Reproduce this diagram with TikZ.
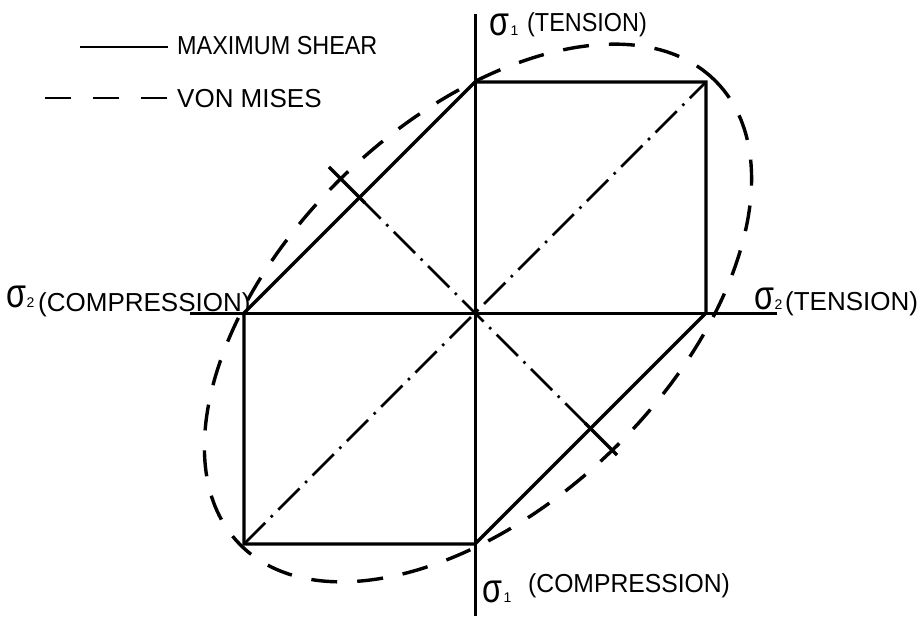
\documentclass[tikz,border=0pt]{standalone}
\usepackage{fontspec}
\setmainfont{Liberation Sans}
\begin{document}
\begin{tikzpicture}[x=1pt,y=1pt,
  solidline/.style={line width=3.2pt},
  axisline/.style={line width=3pt},
  vmline/.style={line width=3.4pt, dash pattern=on 26pt off 20pt},
  dashdotline/.style={line width=2.8pt, dash pattern=on 30pt off 8pt on 2.5pt off 8pt},
  lbl/.style={anchor=base west, inner sep=0pt, font=\fontsize{26}{30}\selectfont},
  sig/.style={anchor=base west, inner sep=0pt, font=\fontsize{34}{40}\selectfont},
  sub/.style={anchor=base west, inner sep=0pt, font=\fontsize{14}{16}\selectfont}]
\useasboundingbox (-475,-303) rectangle (448,313);
% key points
\coordinate (O) at (0,0);
\coordinate (Oe) at (3,0);
\coordinate (A) at (0,231);
\coordinate (B) at (231,231);
\coordinate (C) at (231,0);
\coordinate (D) at (0,-231);
\coordinate (E) at (-231,-231);
\coordinate (F) at (-231,0);
\coordinate (M1) at (-115.5,115.5);
\coordinate (M2) at (115.5,-115.5);
\coordinate (T1a) at (-146,146);
\coordinate (T1b) at (-110,110);
\coordinate (T2a) at (110,-110);
\coordinate (T2b) at (142,-142);
\coordinate (Xl) at (-285,0);
\coordinate (Xr) at (302,0);
\coordinate (Yt) at (0,299);
\coordinate (Yb) at (0,-303);
% axes
\draw[axisline] (Xl) -- (Xr);
\draw[axisline] (Yt) -- (Yb);
% maximum shear hexagon
\draw[solidline] (A) -- (B) -- (C) -- (D) -- (E) -- (F) -- cycle;
% von Mises ellipse
\draw[vmline, rotate around={44:(Oe)}] (Oe) ellipse [x radius=332, y radius=192];
% dash-dot diagonals
\draw[dashdotline] (E) -- (B);
\draw[dashdotline] (M1) -- (M2);
% ticks
\draw[solidline] (T1a) -- (T1b);
\draw[solidline] (T2a) -- (T2b);
% legend
\coordinate (L1a) at (-395,266);
\coordinate (L1b) at (-307,266);
\coordinate (L2a) at (-430,215);
\coordinate (L2b) at (-308,215);
\draw[line width=2.6pt] (L1a) -- (L1b);
\draw[line width=2.6pt, dash pattern=on 26pt off 22pt] (L2a) -- (L2b);
\node[lbl] (legA) at (-298,258) {\scalebox{0.9}[1]{MAXIMUM SHEAR}};
\node[lbl] (legB) at (-298,205) {VON MISES};
% axis labels
\node[sig] (s1t) at (14,277) {\scalebox{0.95}[1.2]{σ}};
\node[sub] (s1tsub) at ([xshift=1pt]s1t.base east) {1};
\node[lbl] (tenT) at (52,281) {\scalebox{0.9}[1]{(TENSION)}};
\node[sig] (s2l) at (-469,6) {\scalebox{0.95}[1.2]{σ}};
\node[sub] (s2lsub) at ([xshift=0pt]s2l.base east) {2};
\node[lbl] (compL) at (-437,2) {(COMPRESSION)};
\node[sig] (s2r) at (279,4) {\scalebox{0.95}[1.2]{σ}};
\node[sub] (s2rsub) at ([xshift=0pt]s2r.base east) {2};
\node[lbl] (tenR) at (310,3) {(TENSION)};
\node[sig] (s1b) at (7,-289) {\scalebox{0.95}[1.2]{σ}};
\node[sub] (s1bsub) at ([xshift=1pt]s1b.base east) {1};
\node[lbl] (compB) at (53,-279) {\scalebox{0.95}[1]{(COMPRESSION)}};
\end{tikzpicture}
\end{document}
